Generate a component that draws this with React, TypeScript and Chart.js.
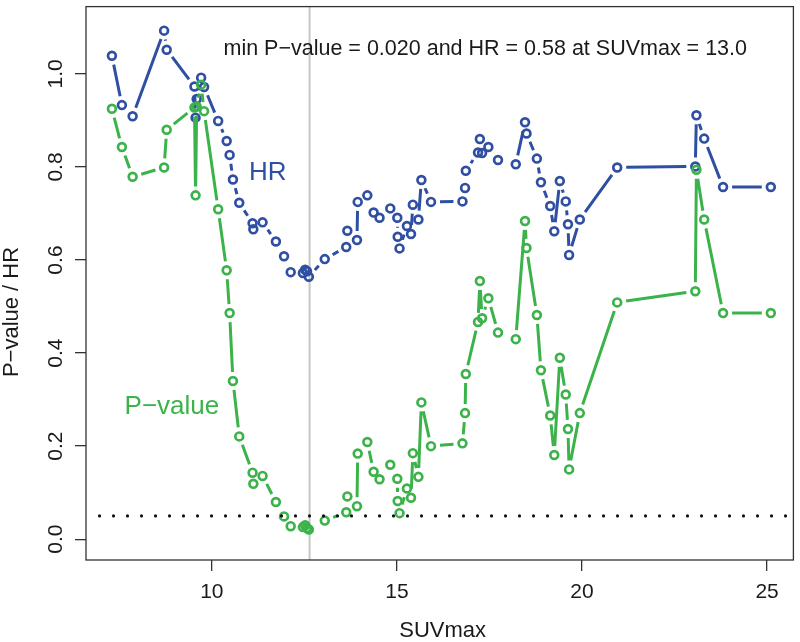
import React, { useEffect, useRef } from "react";
import { Chart, registerables } from "chart.js";

Chart.register(...registerables);

// ---- data ----
const suvmax = [
  7.30, 7.57, 7.86, 8.71, 8.78, 9.53, 9.56, 9.59, 9.71, 9.79,
  10.17, 10.40, 10.48, 10.57, 10.74, 11.10, 11.12, 11.37, 11.73, 11.95,
  12.13, 12.46, 12.52, 12.57, 12.62, 13.05, 13.63, 13.66, 13.92, 13.94,
  14.20, 14.37, 14.53, 14.82, 15.01, 15.02, 15.07, 15.27, 15.38, 15.43,
  15.58, 15.66, 15.92, 16.77, 16.84, 16.86, 17.19, 17.24, 17.30, 17.47,
  17.73, 18.21, 18.46, 18.50, 18.78, 18.89, 19.14, 19.25, 19.40, 19.56,
  19.62, 19.65, 19.94, 20.95, 23.06, 23.09, 23.30, 23.81, 25.10,
];
const hazardRatio = [
  1.039, 0.933, 0.909, 1.093, 1.052, 0.973, 0.906, 0.946, 0.992, 0.972,
  0.899, 0.856, 0.826, 0.773, 0.723, 0.679, 0.666, 0.681, 0.640, 0.608,
  0.574, 0.572, 0.579, 0.576, 0.564, 0.602, 0.628, 0.663, 0.643, 0.725,
  0.739, 0.702, 0.691, 0.711, 0.691, 0.650, 0.625, 0.673, 0.656, 0.719,
  0.687, 0.772, 0.725, 0.726, 0.755, 0.792, 0.831, 0.860, 0.830, 0.843,
  0.815, 0.806, 0.896, 0.872, 0.818, 0.767, 0.716, 0.662, 0.770, 0.726,
  0.677, 0.611, 0.687, 0.799, 0.801, 0.911, 0.861, 0.757, 0.757,
];
const pValue = [
  0.925, 0.843, 0.779, 0.799, 0.880, 0.928, 0.739, 0.930, 0.977, 0.920,
  0.709, 0.578, 0.486, 0.340, 0.221, 0.143, 0.119, 0.136, 0.080, 0.049,
  0.028, 0.026, 0.030, 0.024, 0.021, 0.040, 0.058, 0.092, 0.071, 0.184,
  0.209, 0.145, 0.129, 0.160, 0.130, 0.082, 0.056, 0.109, 0.089, 0.185,
  0.134, 0.294, 0.200, 0.206, 0.271, 0.355, 0.467, 0.555, 0.475, 0.518,
  0.444, 0.430, 0.684, 0.626, 0.482, 0.363, 0.266, 0.181, 0.390, 0.311,
  0.237, 0.150, 0.271, 0.509, 0.533, 0.794, 0.687, 0.486, 0.486,
];
const xTicks = [10, 15, 20, 25];
const yTicks = [0, 0.2, 0.4, 0.6, 0.8, 1.0];
const cutoffSuv = 12.64;
const alphaLevel = 0.05;
const annotationText = "min P\u2212value = 0.020 and HR = 0.58 at SUVmax = 13.0";
const xTitle = "SUVmax";
const yTitle = "P\u2212value / HR";
const hrLabel = "HR";
const pLabel = "P\u2212value";

const FONT = '"Liberation Sans", Arial, Helvetica, sans-serif';
const BLUE = "#2f4fa3";
const GREEN = "#3cb34a";
const INK = "#1a1a1a";

const W = 800;
const H = 642;

const overlay = {
  id: "overlay",
  beforeDatasetsDraw(chart: any) {
    const { ctx, chartArea: a, scales } = chart;
    const cx = scales.x.getPixelForValue(cutoffSuv);
    ctx.save();
    ctx.strokeStyle = "#c6c6c6";
    ctx.lineWidth = 2;
    ctx.beginPath();
    ctx.moveTo(cx, a.top);
    ctx.lineTo(cx, a.bottom);
    ctx.stroke();
    ctx.restore();
  },
  beforeDatasetDraw(chart: any, args: any) {
    const { ctx, chartArea: a } = chart;
    const ds = chart.data.datasets[args.index];
    const pts = args.meta.data;
    const gap = 9;
    ctx.save();
    ctx.beginPath();
    ctx.rect(a.left, a.top, a.right - a.left, a.bottom - a.top);
    ctx.clip();
    ctx.strokeStyle = ds.borderColor;
    ctx.lineWidth = 3;
    ctx.lineCap = "butt";
    ctx.beginPath();
    for (let i = 0; i < pts.length - 1; i++) {
      const p0 = pts[i];
      const p1 = pts[i + 1];
      const dx = p1.x - p0.x;
      const dy = p1.y - p0.y;
      const d = Math.hypot(dx, dy);
      if (d <= 2 * gap + 1) continue;
      const ux = dx / d;
      const uy = dy / d;
      ctx.moveTo(p0.x + ux * gap, p0.y + uy * gap);
      ctx.lineTo(p1.x - ux * gap, p1.y - uy * gap);
    }
    ctx.stroke();
    ctx.restore();
  },
  afterDatasetsDraw(chart: any) {
    const { ctx, chartArea: a, scales } = chart;
    const yy = scales.y.getPixelForValue(alphaLevel);
    ctx.save();
    ctx.strokeStyle = "#111";
    ctx.lineWidth = 3.2;
    ctx.lineCap = "round";
    ctx.setLineDash([0, 14]);
    ctx.beginPath();
    ctx.moveTo(a.left + 13.5, yy);
    ctx.lineTo(a.right, yy);
    ctx.stroke();
    ctx.setLineDash([]);
    ctx.lineCap = "butt";
    ctx.strokeStyle = "#333";
    ctx.lineWidth = 1.3;
    ctx.strokeRect(a.left, a.top, a.right - a.left, a.bottom - a.top);
    ctx.restore();
  },
  afterDraw(chart: any) {
    const { ctx, chartArea: a, scales } = chart;
    const xs = scales.x;
    const ys = scales.y;
    ctx.save();
    ctx.fillStyle = INK;
    ctx.textAlign = "center";
    ctx.textBaseline = "alphabetic";
    ctx.font = `21px ${FONT}`;
    for (const v of xTicks) {
      ctx.fillText(String(v), xs.getPixelForValue(v), 598);
    }
    for (const v of yTicks) {
      ctx.save();
      ctx.translate(61.5, ys.getPixelForValue(v));
      ctx.rotate(-Math.PI / 2);
      ctx.fillText(v.toFixed(1), 0, 0);
      ctx.restore();
    }
    ctx.font = `22px ${FONT}`;
    ctx.fillText(xTitle, (a.left + a.right) / 2 + 3, 637);
    ctx.save();
    ctx.translate(18, 312);
    ctx.rotate(-Math.PI / 2);
    ctx.fillText(yTitle, 0, 0);
    ctx.restore();

    ctx.font = `21.5px ${FONT}`;
    ctx.fillText(annotationText, xs.getPixelForValue(17.385), ys.getPixelForValue(1.04));

    ctx.font = `26px ${FONT}`;
    ctx.fillStyle = BLUE;
    ctx.fillText(hrLabel, xs.getPixelForValue(11.51), ys.getPixelForValue(0.772));
    ctx.fillStyle = GREEN;
    ctx.fillText(pLabel, xs.getPixelForValue(8.92), ys.getPixelForValue(0.27));
    ctx.restore();
  },
};

export default function App() {
  const canvasRef = useRef<HTMLCanvasElement | null>(null);

  useEffect(() => {
    document.body.style.margin = "0";
    const canvas = canvasRef.current;
    if (!canvas) return;

    const pointStyle = (color: string) => ({
      showLine: false,
      borderColor: color,
      backgroundColor: "rgba(0,0,0,0)",
      pointBorderColor: color,
      pointBackgroundColor: "rgba(0,0,0,0)",
      pointRadius: 3.9,
      pointBorderWidth: 2.7,
      pointHoverRadius: 3.9,
    });

    const chart = new Chart(canvas, {
      type: "scatter",
      data: {
        datasets: [
          {
            label: "P-value",
            data: suvmax.map((x, i) => ({ x, y: pValue[i] })),
            ...pointStyle(GREEN),
          },
          {
            label: "HR",
            data: suvmax.map((x, i) => ({ x, y: hazardRatio[i] })),
            ...pointStyle(BLUE),
          },
        ],
      },
      options: {
        animation: false,
        responsive: false,
        events: [],
        layout: { padding: { left: 0, top: 1, right: 5, bottom: 0 } },
        plugins: {
          legend: { display: false },
          title: { display: false },
          tooltip: { enabled: false },
        },
        scales: {
          x: {
            type: "linear",
            position: "bottom",
            min: 6.6,
            max: 25.71,
            afterBuildTicks: (s: any) => {
              s.ticks = xTicks.map((v) => ({ value: v }));
            },
            afterFit: (s: any) => {
              s.height = H - 560;
            },
            ticks: { display: false },
            grid: {
              drawOnChartArea: false,
              drawTicks: true,
              tickLength: 11,
              color: "#333",
              lineWidth: 1.3,
            },
            border: { display: false },
          },
          y: {
            type: "linear",
            position: "left",
            min: -0.0447,
            max: 1.1447,
            afterBuildTicks: (s: any) => {
              s.ticks = yTicks.map((v) => ({ value: v }));
            },
            afterFit: (s: any) => {
              s.width = 86;
            },
            ticks: { display: false },
            grid: {
              drawOnChartArea: false,
              drawTicks: true,
              tickLength: 11,
              color: "#333",
              lineWidth: 1.3,
            },
            border: { display: false },
          },
        },
      },
      plugins: [overlay as any],
    });

    return () => chart.destroy();
  }, []);

  return (
    <div style={{ width: W, height: H, background: "#fff" }}>
      <canvas ref={canvasRef} width={W} height={H} style={{ display: "block" }} />
    </div>
  );
}
